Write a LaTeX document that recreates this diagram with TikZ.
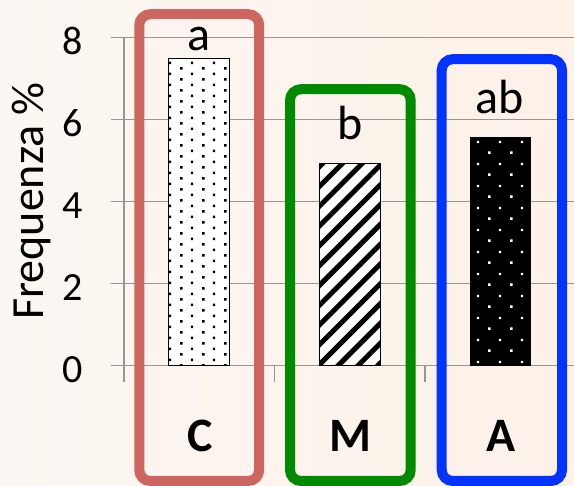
\documentclass[tikz,border=0pt]{standalone}
\usepackage{fontspec}
\setmainfont{Carlito}
\usetikzlibrary{patterns,patterns.meta}

\definecolor{boxC}{RGB}{205,102,96}
\definecolor{boxM}{RGB}{0,138,0}
\definecolor{boxA}{RGB}{3,51,255}
\definecolor{bgleft}{RGB}{251,247,242}
\definecolor{bgright}{RGB}{253,241,232}
\definecolor{gridgray}{RGB}{150,150,150}

% staggered dot fills
\pgfdeclarepatternformonly{finedots}{\pgfpointorigin}{\pgfpoint{22pt}{10.8pt}}{\pgfpoint{22pt}{10.8pt}}{%
  \pgfpathrectangle{\pgfpoint{4.3pt}{1.5pt}}{\pgfpoint{2.5pt}{2.5pt}}%
  \pgfpathrectangle{\pgfpoint{15.3pt}{6.9pt}}{\pgfpoint{2.5pt}{2.5pt}}%
  \pgfusepath{fill}}
\pgfdeclarepatternformonly{sparsedots}{\pgfpointorigin}{\pgfpoint{22pt}{21.6pt}}{\pgfpoint{22pt}{21.6pt}}{%
  \pgfpathrectangle{\pgfpoint{4.3pt}{4.2pt}}{\pgfpoint{2.5pt}{2.5pt}}%
  \pgfpathrectangle{\pgfpoint{15.3pt}{15pt}}{\pgfpoint{2.5pt}{2.5pt}}%
  \pgfusepath{fill}}

\tikzset{
  gridline/.style={gridgray, line width=1.4pt},
  groupbox/.style={line width=10pt, rounded corners=11pt},
  barlabel/.style={font=\fontsize{48}{58}\selectfont, anchor=base, inner sep=0pt},
  catlabel/.style={font=\fontsize{48}{58}\selectfont\bfseries, anchor=base, inner sep=0pt},
  ticklabel/.style={font=\fontsize{40}{48}\selectfont, anchor=base east, inner sep=0pt},
}

\begin{document}
\begin{tikzpicture}[x=1pt,y=1pt]
  % Layout frame
  \fill[left color=bgleft, right color=bgright] (0,0) rectangle (574,486);
  \useasboundingbox (0,0) rectangle (574,486);

  % -------- axis title --------
  \node[rotate=90, anchor=base, inner sep=0pt, font=\fontsize{46}{55}\selectfont] (ytitle) at (43,285) {Frequenza \%};

  % -------- chart area --------
  \begin{scope}[shift={(124,120.3)}, y=41pt]
    \foreach \v in {0,2,...,8} {
      \draw[gridline] (-13,\v) -- (450,\v);
      \node[ticklabel, yshift=-17pt] (tick\v) at (-41,\v) {\v};
    }
    \draw[gridline] (0,-0.39) -- (0,8);
    \foreach \t in {150.5,301} {
      \draw[gridline] (\t,0) -- (\t,-0.39);
    }
    % bars
    \draw[black, line width=0.8pt, preaction={fill=white}, pattern=finedots, pattern color=black] (44.5,0) rectangle (105.5,7.5);
    \draw[black, line width=0.8pt, preaction={fill=white}, pattern={Lines[angle=45,distance=14pt,line width=5pt]}, pattern color=black] (195,0) rectangle (256,4.93);
    \fill[black, postaction={pattern=sparsedots, pattern color=white}] (345.5,0) rectangle (406.5,5.58);
  \end{scope}

  % -------- group frames --------
  \draw[groupbox, boxC] (139.3,5) rectangle (259.2,471.8);
  \draw[groupbox, boxM] (290,5) rectangle (410.7,396.8);
  \draw[groupbox, boxA] (441.7,5) rectangle (562,426.8);

  % -------- letters --------
  \node[barlabel] (letC) at (199,435) {a};
  \node[barlabel] (letM) at (350,346) {b};
  \node[barlabel] (letA) at (500,372.5) {ab};

  \node[catlabel] (catC) at (200,34) {C};
  \node[catlabel] (catM) at (350,34) {M};
  \node[catlabel] (catA) at (501,34) {A};
\end{tikzpicture}
\end{document}
